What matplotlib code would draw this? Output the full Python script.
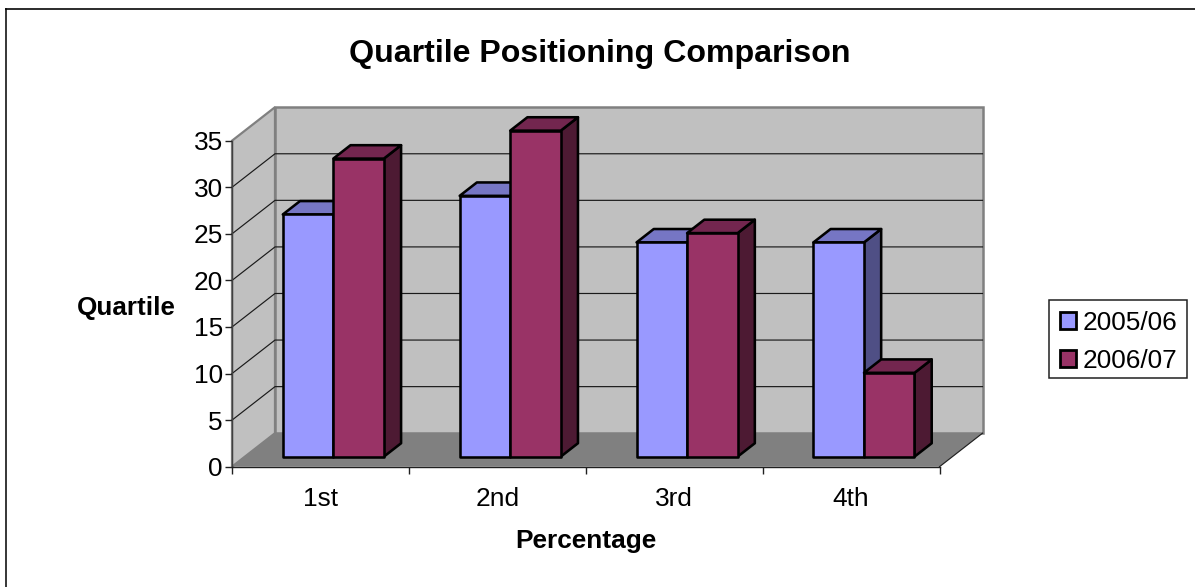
import matplotlib
matplotlib.use("Agg")
import matplotlib.pyplot as plt
from matplotlib.lines import Line2D
from matplotlib.patches import Patch, Polygon, Rectangle

plt.rcParams['font.family'] = ['Liberation Sans', 'DejaVu Sans']

# Chart content
categories = ['1st', '2nd', '3rd', '4th']
series_names = ['2005/06', '2006/07']
values_2005 = [26, 28, 23, 23]
values_2006 = [32, 35, 24, 9]
y_ticks = [0, 5, 10, 15, 20, 25, 30, 35]

W, H = 1195, 587
fig = plt.figure(figsize=(W / 100, H / 100), dpi=100, facecolor='white')

# Axes rectangle is the front plane of the 3D box, in pixels
L, R, B, T = 232, 939.5, 466.7, 140.7
ax = fig.add_axes([L / W, 1 - B / H, (R - L) / W, (B - T) / H])
ax.set_xlim(0, len(categories))
ax.set_ylim(0, 35)
ax.patch.set_visible(False)

# Depth vector of the box, expressed in data units
DX = 43 / ((R - L) / len(categories))
DY = 33.5 / ((B - T) / 35)


def project(x, y, d):
    return (x + d * DX, y + d * DY)


def face(points, **kw):
    ax.add_patch(Polygon([project(*p) for p in points], closed=True,
                         clip_on=False, **kw))


xmax, ymax = len(categories), y_ticks[-1]
wall = '#C0C0C0'
wall_edge = '#808080'

# Side wall, back wall, floor
face([(0, 0, 0), (0, 0, 1), (0, ymax, 1), (0, ymax, 0)], facecolor=wall,
     edgecolor=wall_edge, linewidth=1.6, zorder=1)
face([(0, 0, 1), (xmax, 0, 1), (xmax, ymax, 1), (0, ymax, 1)], facecolor=wall,
     edgecolor=wall_edge, linewidth=1.8, zorder=1)
face([(0, 0, 0), (xmax, 0, 0), (xmax, 0, 1), (0, 0, 1)], facecolor='#808080',
     edgecolor='none', zorder=1.5)

# Gridlines run along the side wall and across the back wall
for v in y_ticks[1:-1]:
    pts = [project(0, v, 0), project(0, v, 1), project(xmax, v, 1)]
    ax.plot(*zip(*pts), color='#1A1A1A', lw=0.85, zorder=2, clip_on=False)

# Outer floor edge on the right
pts = [project(xmax, 0, 0), project(xmax, 0, 1)]
ax.plot(*zip(*pts), color='#202020', lw=0.85, zorder=2, clip_on=False)

# Bars: two boxes per category, sitting mid-way through the depth
BAR_W = 1 / 3.5
D0, D1 = 0.3, 0.7
styles = [('#9999FF', '#7676C4', '#4F4F85'), ('#993366', '#73264F', '#4D1A33')]
z = 3
for i in range(len(categories)):
    for j, vals in enumerate([values_2005, values_2006]):
        x0 = i + 0.5 - BAR_W + j * BAR_W
        x1 = x0 + BAR_W
        v = vals[i]
        front, top, side = styles[j]
        kw = dict(edgecolor='black', linewidth=1.85, joinstyle='round')
        face([(x1, 0, D0), (x1, 0, D1), (x1, v, D1), (x1, v, D0)],
             facecolor=side, zorder=z, **kw)
        face([(x0, v, D0), (x1, v, D0), (x1, v, D1), (x0, v, D1)],
             facecolor=top, zorder=z, **kw)
        face([(x0, 0, D0), (x1, 0, D0), (x1, v, D0), (x0, v, D0)],
             facecolor=front, zorder=z + 0.1, **kw)
        z += 1

# Axes lines and ticks
for s in ('top', 'right'):
    ax.spines[s].set_visible(False)
ax.spines['left'].set_color('#404040')
ax.spines['bottom'].set_color('#202020')
ax.spines['left'].set_linewidth(1.0)
ax.spines['bottom'].set_linewidth(1.0)
ax.spines['left'].set_zorder(2.5)
ax.spines['bottom'].set_zorder(2.5)
ax.set_yticks(y_ticks)
ax.set_xticks(range(len(categories) + 1))
ax.set_xticklabels([])
ax.set_xticks([i + 0.5 for i in range(len(categories))], categories, minor=True)
ax.tick_params(axis='y', length=5, width=1, labelsize=18.9, pad=1.5, color='#202020')
ax.tick_params(axis='x', which='major', length=5, width=1, color='#202020')
ax.tick_params(axis='x', which='minor', length=0, labelsize=18.9, pad=14.5)

# Titles
fig.text(600 / W, 1 - 54 / H, 'Quartile Positioning Comparison', fontsize=23.1,
         fontweight='bold', ha='center', va='center')
fig.text(126 / W, 1 - 308 / H, 'Quartile', fontsize=18.7, fontweight='bold',
         ha='center', va='center')
fig.text(585.5 / W, 1 - 541 / H, 'Percentage', fontsize=18.9, fontweight='bold',
         ha='center', va='center')

# Legend frame and entries
fig.add_artist(Rectangle((1049 / W, 1 - 378 / H), 138 / W, 78 / H,
                         transform=fig.transFigure, facecolor='white',
                         edgecolor='#202020', linewidth=1.1))
handles = [Patch(facecolor=styles[k][0], edgecolor='black', linewidth=2.0)
           for k in range(2)]
leg = fig.legend(handles, series_names, loc='upper left',
                 bbox_to_anchor=(1049 / W, 1 - 300 / H),
                 bbox_transform=fig.transFigure, fontsize=18.9, frameon=False,
                 handlelength=0.62, handleheight=0.62, handletextpad=0.25,
                 labelspacing=0.52, borderpad=0.42, borderaxespad=0)

# Chart-area border: top and left edges
fig.add_artist(Line2D([6.5 / W, 1], [1 - 9 / H, 1 - 9 / H], color='#303030', lw=1.44,
                      transform=fig.transFigure))
fig.add_artist(Line2D([6.5 / W, 6.5 / W], [0, 1 - 9 / H], color='black', lw=1.1,
                      transform=fig.transFigure))

fig.savefig('out.png', dpi=100, facecolor='white')
